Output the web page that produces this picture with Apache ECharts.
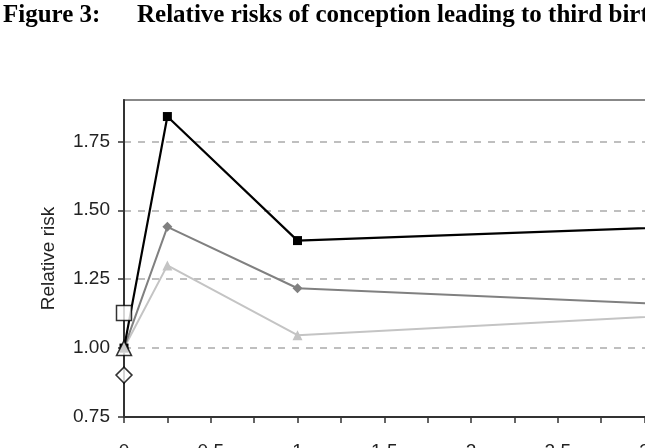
<!DOCTYPE html>
<html>
<head>
<meta charset="utf-8">
<script src="https://cdn.jsdelivr.net/npm/echarts@6/dist/echarts.min.js"></script>
<style>
  html, body { margin: 0; padding: 0; background: #fff; }
  #chart { width: 645px; height: 448px; }
</style>
</head>
<body>
<div id="chart"></div>
<script>
// years since second birth (x) and relative risk values
const xValues = [0, 0.25, 1, 4];
const topLine = [1.0, 1.84, 1.39, 1.458];
const midLine = [1.0, 1.44, 1.217, 1.136];
const lowLine = [1.0, 1.30, 1.047, 1.146];

// reference points drawn at x = 0
const refSquare = [[0, 1.127]];
const refTriangle = [[0, 1.0]];
const refDiamond = [[0, 0.902]];

const yTicks = [0.75, 1.0, 1.25, 1.5, 1.75];
const xLabels = [0, 0.5, 1, 1.5, 2, 2.5, 3, 3.5, 4];

const pairs = (ys) => xValues.map((x, i) => [x, ys[i]]);

const chart = echarts.init(document.getElementById('chart'));

const axisFont = {fontFamily: 'Liberation Sans, Arial, sans-serif', fontSize: 19, color: '#222'};
const titleFont = {fontFamily: 'Liberation Serif, Times New Roman, serif', fontWeight: 'bold', fontSize: 25, color: '#000'};

const option = {
    animation: false,
    backgroundColor: '#fff',
    title: [
        {text: 'Figure 3:', left: 3, top: 3, padding: 0, textStyle: titleFont},
        {text: 'Relative risks of conception leading to third birth', left: 137, top: 3, padding: 0, textStyle: titleFont}
    ],
    grid: {
        left: 124, top: 100, width: 694, height: 317,
        outerBoundsMode: 'none',
        show: true, borderColor: '#888', borderWidth: 2
    },
    xAxis: {
        type: 'value',
        min: 0, max: 4, interval: 0.5,
        axisLine: {onZero: false, lineStyle: {color: '#333', width: 2}},
        axisTick: {length: 6, lineStyle: {color: '#333', width: 1.5}},
        minorTick: {show: true, splitNumber: 2, length: 6, lineStyle: {color: '#333', width: 1.5}},
        splitLine: {show: false},
        axisLabel: Object.assign({margin: 25, customValues: xLabels}, axisFont)
    },
    yAxis: {
        type: 'value',
        min: 0.75, max: 1.9, interval: 0.25,
        name: 'Relative risk',
        nameLocation: 'middle',
        nameGap: 66,
        nameTextStyle: {fontFamily: 'Liberation Sans, Arial, sans-serif', fontSize: 19, color: '#222'},
        axisLine: {show: true, lineStyle: {color: '#333', width: 2}},
        axisTick: {show: true, length: 6, customValues: yTicks, lineStyle: {color: '#333', width: 1.5}},
        splitLine: {show: true, lineStyle: {color: '#aaa', width: 1.5, type: [7, 7]}},
        axisLabel: Object.assign({
            margin: 14, customValues: yTicks,
            formatter: (v) => v.toFixed(2)
        }, axisFont)
    },
    series: [
        {
            type: 'line', data: pairs(lowLine), z: 2,
            lineStyle: {color: '#c4c4c4', width: 2},
            itemStyle: {color: '#c4c4c4'},
            symbol: 'triangle', symbolSize: 10
        },
        {
            type: 'line', data: pairs(midLine), z: 3,
            lineStyle: {color: '#808080', width: 2},
            itemStyle: {color: '#808080'},
            symbol: 'diamond', symbolSize: 10
        },
        {
            type: 'line', data: pairs(topLine), z: 4,
            lineStyle: {color: '#000', width: 2.2},
            itemStyle: {color: '#000'},
            symbol: 'rect', symbolSize: 9
        },
        {
            type: 'scatter', data: refSquare, z: 10,
            symbol: 'rect', symbolSize: 15,
            itemStyle: {color: '#fff', borderColor: '#000', borderWidth: 1.5}
        },
        {
            type: 'scatter', data: refTriangle, z: 10,
            symbol: 'triangle', symbolSize: 15,
            itemStyle: {color: '#fff', borderColor: '#000', borderWidth: 1.5}
        },
        {
            type: 'scatter', data: refDiamond, z: 10,
            symbol: 'diamond', symbolSize: 16,
            itemStyle: {color: '#fff', borderColor: '#000', borderWidth: 1.5}
        }
    ]
};

chart.setOption(option);
</script>
</body>
</html>
